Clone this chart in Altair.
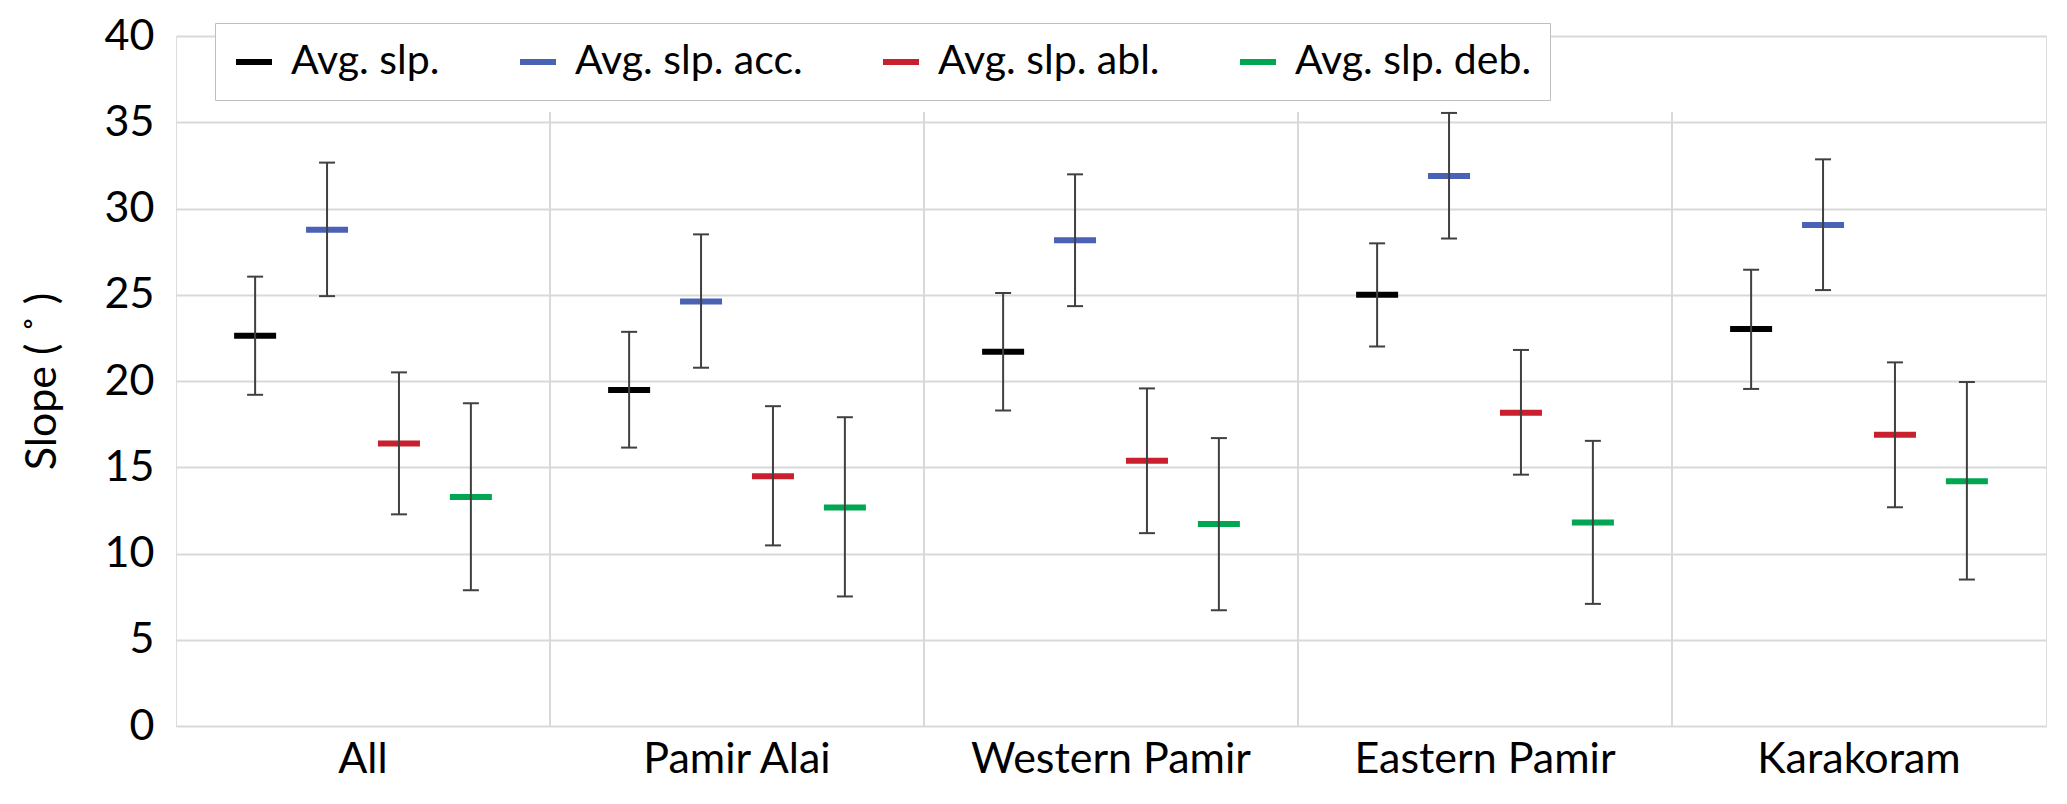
import altair as alt
import pandas as pd

# ---- data ----
groups = ["All", "Pamir Alai", "Western Pamir", "Eastern Pamir", "Karakoram"]
series = ["Avg. slp.", "Avg. slp. acc.", "Avg. slp. abl.", "Avg. slp. deb."]
colors = ["#000000", "#4A62B3", "#C8202F", "#00A651"]

mean_slp = [22.63, 19.48, 21.70, 25.00, 23.01]
low_slp = [19.20, 16.14, 18.29, 22.00, 19.54]
high_slp = [26.05, 22.85, 25.10, 27.98, 26.45]

mean_acc = [28.77, 24.61, 28.16, 31.89, 29.05]
low_acc = [24.92, 20.77, 24.34, 28.26, 25.27]
high_acc = [32.66, 28.50, 31.98, 35.54, 32.85]

mean_abl = [16.38, 14.48, 15.37, 18.16, 16.89]
low_abl = [12.27, 10.47, 11.18, 14.57, 12.68]
high_abl = [20.50, 18.54, 19.57, 21.80, 21.08]

mean_deb = [13.27, 12.67, 11.71, 11.79, 14.19]
low_deb = [7.87, 7.51, 6.71, 7.08, 8.49]
high_deb = [18.71, 17.90, 16.69, 16.53, 19.94]

y_ticks = [0, 5, 10, 15, 20, 25, 30, 35, 40]
y_title = "Slope ( ˚ )"
separator_groups = groups[1:]
separator_top = 35.6

# ---- table ----
means = [mean_slp, mean_acc, mean_abl, mean_deb]
lows = [low_slp, low_acc, low_abl, low_deb]
highs = [high_slp, high_acc, high_abl, high_deb]
rows = []
for s, m, lo, hi in zip(series, means, lows, highs):
    for g, mv, lv, hv in zip(groups, m, lo, hi):
        rows.append({"group": g, "series": s, "mean": mv, "low": lv, "high": hv})
df = pd.DataFrame(rows)
sep_df = pd.DataFrame({"group": separator_groups})

FONT = "Lato"
GRID = "#d9d9d9"
ERR = "#404040"

x_scale = alt.Scale(domain=groups, paddingInner=0, paddingOuter=0)
x_axis = alt.Axis(title=None, labelAngle=0, domain=False, ticks=False, grid=False,
                  labelFontSize=43, labelFont=FONT, labelColor="#000000", labelPadding=12,
                  labelLimit=0)
y_scale = alt.Scale(domain=[0, 40], nice=False, zero=True)
y_axis = alt.Axis(values=y_ticks, domain=False, ticks=False, grid=True, gridColor=GRID,
                  gridWidth=2, labelFontSize=43, labelFont=FONT, labelColor="#000000",
                  labelPadding=22, titleFontSize=43, titleFont=FONT, titleFontWeight="normal",
                  titleColor="#000000", titleX=-134, titleY=345, titleAngle=-90,
                  titleAlign="center", titleBaseline="middle")

X = alt.X("group:N", sort=groups, scale=x_scale, axis=x_axis)
XO = alt.XOffset("series:N", sort=series,
                 scale=alt.Scale(domain=series, paddingInner=0, paddingOuter=0.6))

base = alt.Chart(df)

separators = alt.Chart(sep_df).mark_rule(color=GRID, strokeWidth=2).encode(
    x=alt.X("group:N", sort=groups, scale=x_scale, axis=x_axis, bandPosition=0),
    y=alt.datum(0, scale=y_scale),
    y2=alt.datum(separator_top),
)

mean_marks = base.mark_point(shape="stroke", size=1764, strokeWidth=6, opacity=1, filled=False).encode(
    x=X, xOffset=XO,
    y=alt.Y("mean:Q", scale=y_scale, axis=y_axis, title=y_title),
    color=alt.Color("series:N", sort=series, scale=alt.Scale(domain=series, range=colors),
                    legend=alt.Legend(title=None, orient="none", legendX=39, legendY=-13,
                                      direction="horizontal", symbolType="stroke",
                                      symbolStrokeWidth=6, symbolSize=1296,
                                      labelFontSize=41, labelFont=FONT, labelColor="#000000",
                                      labelOffset=16, columnPadding=68, padding=18,
                                      strokeColor="#bfbfbf", fillColor="#ffffff",
                                      labelLimit=400)),
)

err_rule = base.mark_rule(color=ERR, strokeWidth=2).encode(
    x=X, xOffset=XO,
    y=alt.Y("low:Q", scale=y_scale, axis=y_axis, title=y_title),
    y2="high:Q",
)
cap_low = base.mark_tick(color=ERR, thickness=2, size=16, opacity=1).encode(
    x=X, xOffset=XO, y=alt.Y("low:Q", scale=y_scale, axis=y_axis, title=y_title))
cap_high = base.mark_tick(color=ERR, thickness=2, size=16, opacity=1).encode(
    x=X, xOffset=XO, y=alt.Y("high:Q", scale=y_scale, axis=y_axis, title=y_title))

chart = alt.layer(separators, mean_marks, err_rule, cap_low, cap_high).properties(
    width=1870, height=690,
    autosize=alt.AutoSizeParams(type="none"),
    padding={"left": 168, "top": 28, "right": 12, "bottom": 70},
    background="#ffffff",
).configure_view(stroke=None).configure(font=FONT)

chart.save("out.html", embed_options={"renderer": "svg", "actions": False})
